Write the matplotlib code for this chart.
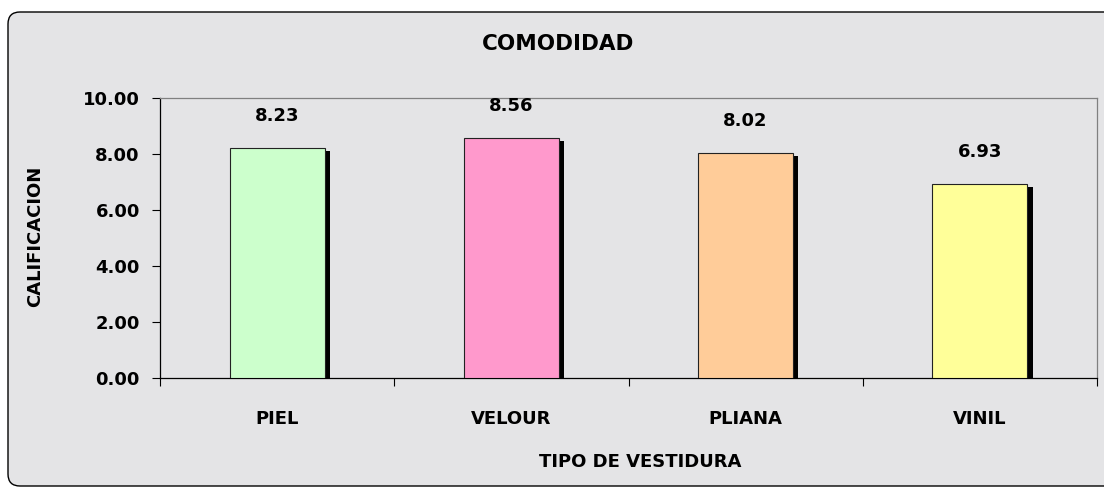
import matplotlib
matplotlib.use("Agg")
import matplotlib.pyplot as plt
import matplotlib.patheffects as pe
from matplotlib.patches import FancyBboxPatch

# chart data
categories = ["PIEL", "VELOUR", "PLIANA", "VINIL"]
scores = [8.23, 8.56, 8.02, 6.93]
bar_colors = ["#CCFFCC", "#FF99CC", "#FFCC99", "#FFFF99"]
y_ticks = [0, 2, 4, 6, 8, 10]

FONT = "DejaVu Sans"
MARBLE = "#e4e4e6"

fig = plt.figure(figsize=(11.04, 4.87), dpi=100)
fig.patch.set_facecolor("white")

# rounded chart-area frame (runs off the right edge like the original)
frame = FancyBboxPatch(
    (0.08, 0.01), 11.2, 4.74,
    boxstyle="round,pad=0,rounding_size=0.12",
    transform=fig.dpi_scale_trans,
    facecolor=MARBLE, edgecolor="black", linewidth=1.0, zorder=-5,
)
fig.patches.append(frame)

ax = fig.add_axes([160 / 1104, 1 - 378 / 487, (1097 - 160) / 1104, (378 - 98) / 487])
ax.set_facecolor("none")

x = range(len(categories))
bars = ax.bar(
    x, scores, width=0.405, color=bar_colors,
    edgecolor="#222222", linewidth=0.8, zorder=3,
)
for b in bars:
    b.set_path_effects([
        pe.SimplePatchShadow(offset=(3.8, -2.2), shadow_rgbFace="black", alpha=1.0),
        pe.Normal(),
    ])

for xi, v in zip(x, scores):
    ax.annotate(
        f"{v:.2f}", (xi, v), xytext=(0, 23), textcoords="offset points",
        ha="center", va="center", fontsize=13, fontweight="bold", family=FONT,
    )

ax.set_xlim(-0.5, len(categories) - 0.5)
ax.set_ylim(0, 10)
ax.set_yticks(y_ticks)
ax.set_yticklabels([f"{t:.2f}" for t in y_ticks], fontsize=13, fontweight="bold", family=FONT)

# category labels centred, ticks on category boundaries
ax.set_xticks(list(x))
ax.set_xticklabels(categories, fontsize=13, fontweight="bold", family=FONT)
ax.tick_params(axis="x", length=0, pad=23)
ax.set_xticks([i - 0.5 for i in range(len(categories) + 1)], minor=True)
ax.tick_params(axis="x", which="minor", direction="out", length=5.5, width=0.8)
ax.tick_params(axis="y", direction="out", length=5.5, width=0.8, pad=9)

for side in ("left", "bottom"):
    ax.spines[side].set_color("black")
    ax.spines[side].set_linewidth(0.9)
for side in ("top", "right"):
    ax.spines[side].set_color("#808080")
    ax.spines[side].set_linewidth(0.9)

fig.text(558 / 1104, 1 - 44 / 487, "COMODIDAD", ha="center", va="center",
         fontsize=15.5, fontweight="bold", family=FONT)
fig.text(640 / 1104, 1 - 462 / 487, "TIPO DE VESTIDURA", ha="center", va="center",
         fontsize=13, fontweight="bold", family=FONT)
fig.text(35 / 1104, 1 - 236 / 487, "CALIFICACION", ha="center", va="center",
         rotation=90, fontsize=13, fontweight="bold", family=FONT)

fig.savefig("out.png", dpi=100)
